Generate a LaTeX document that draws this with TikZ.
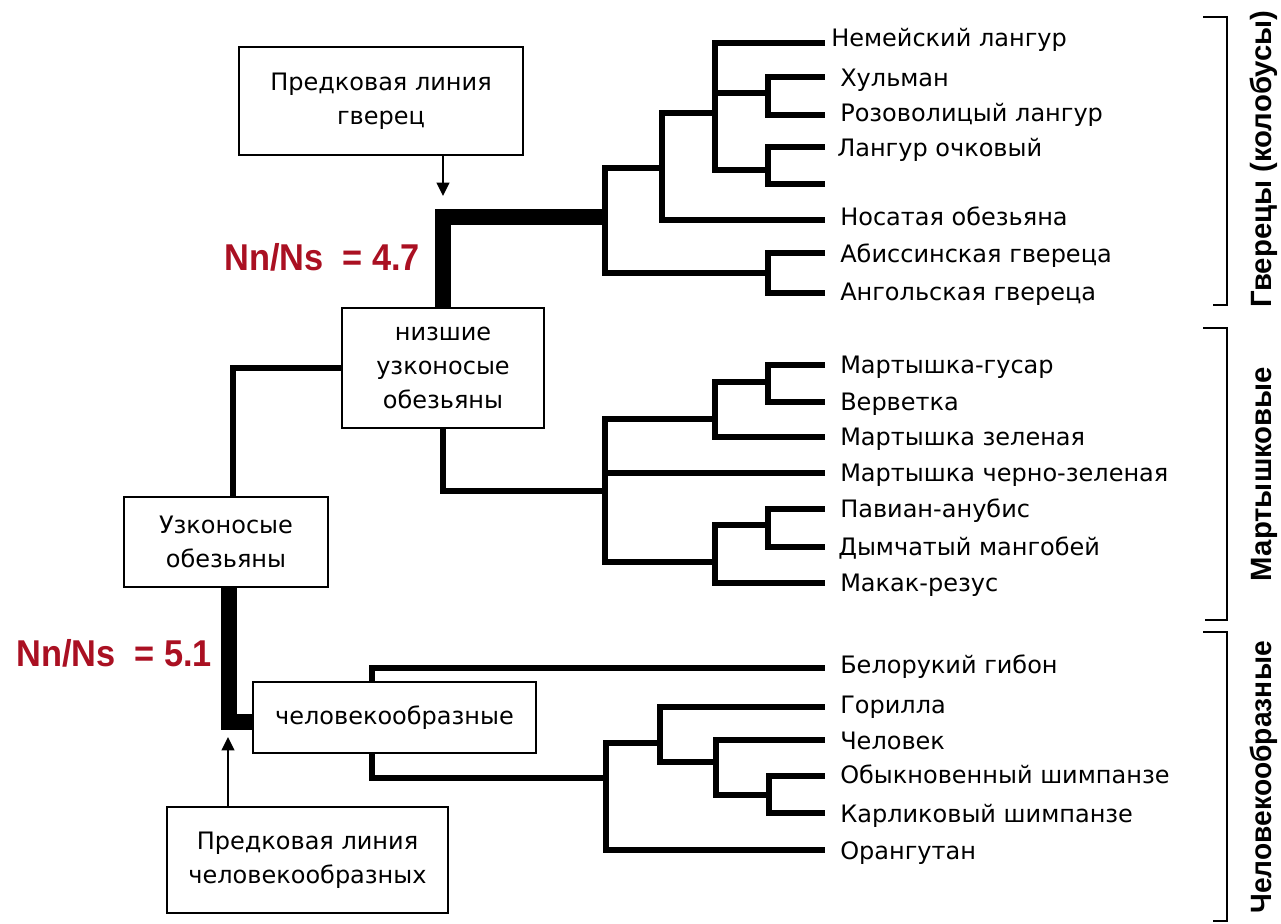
\documentclass[tikz,border=0pt]{standalone}
\usepackage{fontspec}
\setmainfont{DejaVu Sans}
\newfontfamily\arialf{Liberation Sans}
\usetikzlibrary{arrows.meta,calc}
\definecolor{nnred}{RGB}{170,16,34}
\begin{document}
\begin{tikzpicture}[x=0.75pt,y=-0.75pt,
  box/.style={draw, line width=1.5pt, fill=white, inner sep=0pt, align=center,
    font=\fontsize{18pt}{25.5pt}\selectfont},
  br/.style={line width=3.8pt},
  thickbr/.style={line width=12pt},
  arr/.style={line width=1.3pt, -{Triangle[width=9.5pt,length=10pt]}},
  leaf/.style={anchor=base west, inner sep=0pt, font=\fontsize{18pt}{22pt}\selectfont},
  nnlab/.style={anchor=base west, inner sep=0pt, text=nnred,
    font=\arialf\bfseries\fontsize{28pt}{32pt}\selectfont},
  grp/.style={rotate=90, inner sep=0pt, font=\arialf\bfseries\fontsize{22pt}{24pt}\selectfont},
  brk/.style={line width=1.5pt}
]
\fill[white] (0,0) rectangle (1281,924);
\clip (0,0) rectangle (1281,924);

% boxes
\node[box, minimum width=213pt, minimum height=81pt] (gv) at (381,101) {Предковая линия\\гверец};
\node[box, minimum width=151.5pt, minimum height=90pt] (low) at (443,368) {низшие\\узконосые\\обезьяны};
\node[box, minimum width=153pt, minimum height=67.5pt] (narrow) at (226,542) {Узконосые\\обезьяны};
\node[box, minimum width=212.25pt, minimum height=53.25pt] (ape) at (394.5,717.5) {человекообразные};
\node[box, minimum width=210.75pt, minimum height=79.5pt] (apeanc) at (307.5,860) {Предковая линия\\человекообразных};

% leaf ends
\coordinate (eNem) at (825,43);
\coordinate (eHul) at (825,77);
\coordinate (eRoz) at (825,115);
\coordinate (eOch) at (825,147);
\coordinate (eBl)  at (825,184);
\coordinate (eNos) at (825,220);
\coordinate (eAbi) at (825,253);
\coordinate (eAng) at (825,293);
\coordinate (eGus) at (825,365);
\coordinate (eVer) at (825,402);
\coordinate (eZel) at (825,437);
\coordinate (eChz) at (825,473);
\coordinate (ePav) at (825,509);
\coordinate (eDym) at (825,547);
\coordinate (eMak) at (825,583);
\coordinate (eGib) at (825,668);
\coordinate (eGor) at (825,707);
\coordinate (eChe) at (825,740);
\coordinate (eOby) at (825,776);
\coordinate (eKar) at (825,813);
\coordinate (eOra) at (825,850);

% leaf labels
\node[leaf] (lNem) at (831,47) {Немейский лангур};
\node[leaf] (lHul) at (840,87) {Хульман};
\node[leaf] (lRoz) at (840,121) {Розоволицый лангур};
\node[leaf] (lOch) at (837,156) {Лангур очковый};
\node[leaf] (lNos) at (840,225) {Носатая обезьяна};
\node[leaf] (lAbi) at (840,262) {Абиссинская гвереца};
\node[leaf] (lAng) at (840,300) {Ангольская гвереца};
\node[leaf] (lGus) at (840,373) {Мартышка-гусар};
\node[leaf] (lVer) at (840,410) {Верветка};
\node[leaf] (lZel) at (840,445) {Мартышка зеленая};
\node[leaf] (lChz) at (840,481) {Мартышка черно-зеленая};
\node[leaf] (lPav) at (840,517) {Павиан-анубис};
\node[leaf] (lDym) at (838,555) {Дымчатый мангобей};
\node[leaf] (lMak) at (840,591) {Макак-резус};
\node[leaf] (lGib) at (840,673) {Белорукий гибон};
\node[leaf] (lGor) at (840,713) {Горилла};
\node[leaf] (lChe) at (840,749) {Человек};
\node[leaf] (lOby) at (840,783) {Обыкновенный шимпанзе};
\node[leaf] (lKar) at (840,822) {Карликовый шимпанзе};
\node[leaf] (lOra) at (840,859) {Орангутан};

% internal nodes
\coordinate (gA) at (605,217);
\coordinate (gB) at (662,168);
\coordinate (gC) at (715,113);
\coordinate (gD) at (768,93);
\coordinate (gE) at (768,170);
\coordinate (gF) at (768,273);
\coordinate (mA) at (605,491);
\coordinate (mB) at (715,419);
\coordinate (mD) at (768,382);
\coordinate (mC) at (715,562);
\coordinate (mE) at (768,525);
\coordinate (hA) at (606,778);
\coordinate (hB) at (660,743);
\coordinate (hC) at (716,762);
\coordinate (hD) at (769,795);

% colobus clade
\draw[thickbr] (low.north) |- (gA);
\draw[br] (gA) |- (gB);  \draw[br] (gA) |- (gF);
\draw[br] (gB) |- (gC);  \draw[br] (gB) |- (eNos);
\draw[br] (gC) |- (eNem); \draw[br] (gC) |- (gD); \draw[br] (gC) |- (gE);
\draw[br] (gD) |- (eHul); \draw[br] (gD) |- (eRoz);
\draw[br] (gE) |- (eOch); \draw[br] (gE) |- (eBl);
\draw[br] (gF) |- (eAbi); \draw[br] (gF) |- (eAng);

% cercopithecine clade
\draw[br] (low.south) |- (mA);
\draw[br] (mA) |- (mB); \draw[br] (mA) |- (eChz); \draw[br] (mA) |- (mC);
\draw[br] (mB) |- (mD); \draw[br] (mB) |- (eZel);
\draw[br] (mD) |- (eGus); \draw[br] (mD) |- (eVer);
\draw[br] (mC) |- (mE); \draw[br] (mC) |- (eMak);
\draw[br] (mE) |- (ePav); \draw[br] (mE) |- (eDym);

% apes
\path (ape.north west) ++(120,0) coordinate (apeT);
\path (ape.south west) ++(120,0) coordinate (apeB);
\draw[br] (apeT) |- (eGib);
\draw[br] (apeB) |- (hA);
\draw[br] (hA) |- (hB); \draw[br] (hA) |- (eOra);
\draw[br] (hB) |- (eGor); \draw[br] (hB) |- (hC);
\draw[br] (hC) |- (eChe); \draw[br] (hC) |- (hD);
\draw[br] (hD) |- (eOby); \draw[br] (hD) |- (eKar);

% left connections
\draw[br] (low.west) -| ($(narrow.north)+(7,0)$);
\draw[thickbr] ($(narrow.south)+(3,0)$) |- ($(ape.west)+(0,4.5)$);

% arrows
\coordinate (gvTip) at (443,196);
\draw[arr] (gv.south -| gvTip) -- (gvTip);
\coordinate (apTip) at (228,737);
\draw[arr] (apeanc.north -| apTip) -- (apTip);

% Nn/Ns labels
\node[nnlab] (nn1) at (224,270) {\scalebox{0.92}[1]{Nn/Ns\ \ = 4.7}};
\node[nnlab] (nn2) at (16,666) {\scalebox{0.92}[1]{Nn/Ns\ \ = 5.1}};

% brackets
\draw[brk] (1203,17) -- (1227,17) -- (1227,305) -- (1213,305);
\draw[brk] (1203,328) -- (1227,328) -- (1227,620) -- (1205,620);
\draw[brk] (1203,632) -- (1227,632) -- (1227,921) -- (1213,921);

% group labels
\node[grp] (gGv) at (1264,159) {Гверецы (колобусы)};
\node[grp] (gMa) at (1264,474) {Мартышковые};
\node[grp, anchor=east] (gHo) at (1264,641) {\scalebox{0.96}[1]{Человекообразные}};
\end{tikzpicture}
\end{document}
